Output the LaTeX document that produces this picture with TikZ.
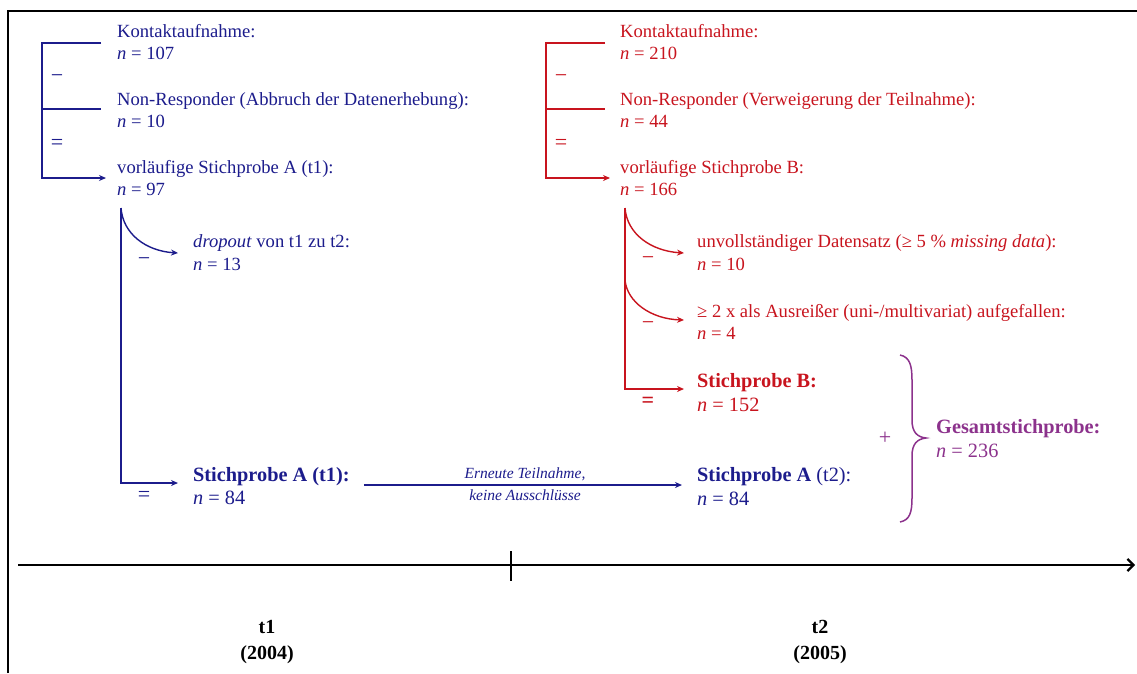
\documentclass[tikz,border=0pt]{standalone}
\usepackage{fontspec}
\setmainfont{Liberation Serif}
\usetikzlibrary{arrows.meta}
\definecolor{sblue}{RGB}{28,28,140}
\definecolor{sred}{RGB}{200,20,30}
\definecolor{spurple}{RGB}{140,50,140}
\tikzset{
  txt/.style={anchor=base west, inner sep=0pt, font=\fontsize{18.6}{22}\selectfont},
  big/.style={anchor=base west, inner sep=0pt, font=\fontsize{20.3}{24}\selectfont},
  sign/.style={inner sep=0pt, font=\fontsize{22}{24}\selectfont},
  note/.style={anchor=base, inner sep=0pt, font=\fontsize{15.5}{18}\selectfont\itshape},
  year/.style={anchor=base, inner sep=0pt, font=\fontsize{20}{24}\selectfont\bfseries},
  flow/.style={line width=1.8pt},
  flowtip/.style={flow, -{Stealth[length=7pt,width=6pt]}},
  bendtip/.style={line width=1.4pt, -{Stealth[length=7pt,width=6pt]}},
}
\begin{document}
\begin{tikzpicture}[x=1pt,y=-1pt]
\useasboundingbox (0,0) rectangle (1137,673);
% frame
\draw[line width=2pt] (8,673) -- (8,10.5) -- (1137,10.5);

% ---------- sample A (blue) ----------
\begin{scope}[color=sblue]
\node[txt] (kA)   at (117,37)  {Kontaktaufnahme:};
\node[txt] (kAn)  at (117,59)  {\textit{n} = 107};
\node[txt] (nrA)  at (117,105) {Non-Responder (Abbruch der Datenerhebung):};
\node[txt] (nrAn) at (117,127) {\textit{n} = 10};
\node[txt] (vA)   at (117,173) {vorläufige Stichprobe A (t1):};
\node[txt] (vAn)  at (117,195) {\textit{n} = 97};
\coordinate (a1) at (42,43);  \coordinate (a1e) at (101,43);
\coordinate (a2) at (42,109); \coordinate (a2e) at (101,109);
\coordinate (a3) at (42,178); \coordinate (a3e) at (106,178);
\draw[flowtip, line join=miter] (a1e) -- (a1) -- (a3) -- (a3e);
\draw[flow] (a2) -- (a2e);
\node[sign] (mA1) at (57,79)  {−};
\node[sign] (eA1) at (57,144) {=};

\node[txt] (dA)  at (193,247) {\textit{dropout} von t1 zu t2:};
\node[txt] (dAn) at (193,270) {\textit{n} = 13};
\node[big] (sA1)  at (193,481) {\textbf{Stichprobe A (t1):}};
\node[big] (sA1n) at (193,504) {\textit{n} = 84};
\coordinate (d0) at (121,208);
\coordinate (d1) at (121,483);
\coordinate (d1e) at (178,483);
\coordinate (dde) at (178,253);
\draw[flowtip, line join=miter] (d0) -- (d1) -- (d1e);
\draw[bendtip] (d0) .. controls (123,234) and (146,251) .. (dde);
\node[sign] (mA2) at (144,262) {−};
\node[sign] (eA2) at (144,496) {=};

\node[big] (sA2)  at (697,481) {\textbf{Stichprobe A} (t2):};
\node[big] (sA2n) at (697,505) {\textit{n} = 84};
\draw[flowtip] ([xshift=14pt,yshift=-4pt]sA1.base east) -- ([xshift=-15pt,yshift=-4pt]sA2.base west);
\node[note] (rn1) at (525,478) {Erneute Teilnahme,};
\node[note] (rn2) at (525,500) {keine Ausschlüsse};
\end{scope}

% ---------- sample B (red) ----------
\begin{scope}[color=sred]
\node[txt] (kB)   at (620,37)  {Kontaktaufnahme:};
\node[txt] (kBn)  at (620,59)  {\textit{n} = 210};
\node[txt] (nrB)  at (620,105) {Non-Responder (Verweigerung der Teilnahme):};
\node[txt] (nrBn) at (620,127) {\textit{n} = 44};
\node[txt] (vB)   at (620,173) {vorläufige Stichprobe B:};
\node[txt] (vBn)  at (620,195) {\textit{n} = 166};
\coordinate (b1) at (546,43);  \coordinate (b1e) at (605,43);
\coordinate (b2) at (546,109); \coordinate (b2e) at (605,109);
\coordinate (b3) at (546,178); \coordinate (b3e) at (610,178);
\draw[flowtip, line join=miter] (b1e) -- (b1) -- (b3) -- (b3e);
\draw[flow] (b2) -- (b2e);
\node[sign] (mB1) at (561,79)  {−};
\node[sign] (eB1) at (561,144) {=};

\node[txt] (uB)  at (697,247) {unvollständiger Datensatz (≥ 5 \% \textit{missing data}):};
\node[txt] (uBn) at (697,270) {\textit{n} = 10};
\node[txt] (oB)  at (697,317) {≥ 2 x als Ausreißer (uni-/multivariat) aufgefallen:};
\node[txt] (oBn) at (697,339) {\textit{n} = 4};
\node[big] (sB)  at (697,387) {\textbf{Stichprobe B:}};
\node[big] (sBn) at (697,411) {\textit{n} = 152};
\coordinate (c0) at (625,208);
\coordinate (c1) at (625,280);
\coordinate (c2) at (625,389);
\coordinate (c2e) at (684,389);
\coordinate (u1e) at (684,253);
\coordinate (u2e) at (684,320);
\draw[flowtip, line join=miter] (c0) -- (c2) -- (c2e);
\draw[bendtip] (c0) .. controls (627,234) and (651,251) .. (u1e);
\draw[bendtip] (c1) .. controls (627,302) and (651,319) .. (u2e);
\node[sign] (mB2) at (648,261) {−};
\node[sign] (mB3) at (648,326) {−};
\node[sign] (eB2) at (648,402) {\textbf{=}};
\end{scope}

% ---------- total sample (purple) ----------
\begin{scope}[color=spurple]
\node[big] (gS)  at (936,433) {\textbf{Gesamtstichprobe:}};
\node[big] (gSn) at (936,457) {\textit{n} = 236};
\node[sign] (plus) at (885,438) {+};
\coordinate (brT) at (900,355);
\coordinate (brM) at (926,438);
\coordinate (brB) at (900,522);
\draw[line width=1.5pt] (brT) .. controls (910,357) and (912,366) .. (912,380)
  -- (912,420) .. controls (912,432) and (917,437) .. (brM)
  .. controls (917,439) and (912,444) .. (912,456)
  -- (912,498) .. controls (912,512) and (910,520) .. (brB);
\end{scope}

% ---------- time axis ----------
\coordinate (tl0) at (18,565);
\coordinate (tl1) at (1135,565);
\draw[line width=2.2pt, -{Straight Barb[length=6pt,width=12pt]}] (tl0) -- (tl1);
\coordinate (tk0) at (511,551);
\coordinate (tk1) at (511,581);
\draw[line width=2pt] (tk0) -- (tk1);
\node[year] (t1) at (267,633) {t1};
\node[year] (y1) at (267,659) {(2004)};
\node[year] (t2) at (820,633) {t2};
\node[year] (y2) at (820,659) {(2005)};
\end{tikzpicture}
\end{document}
